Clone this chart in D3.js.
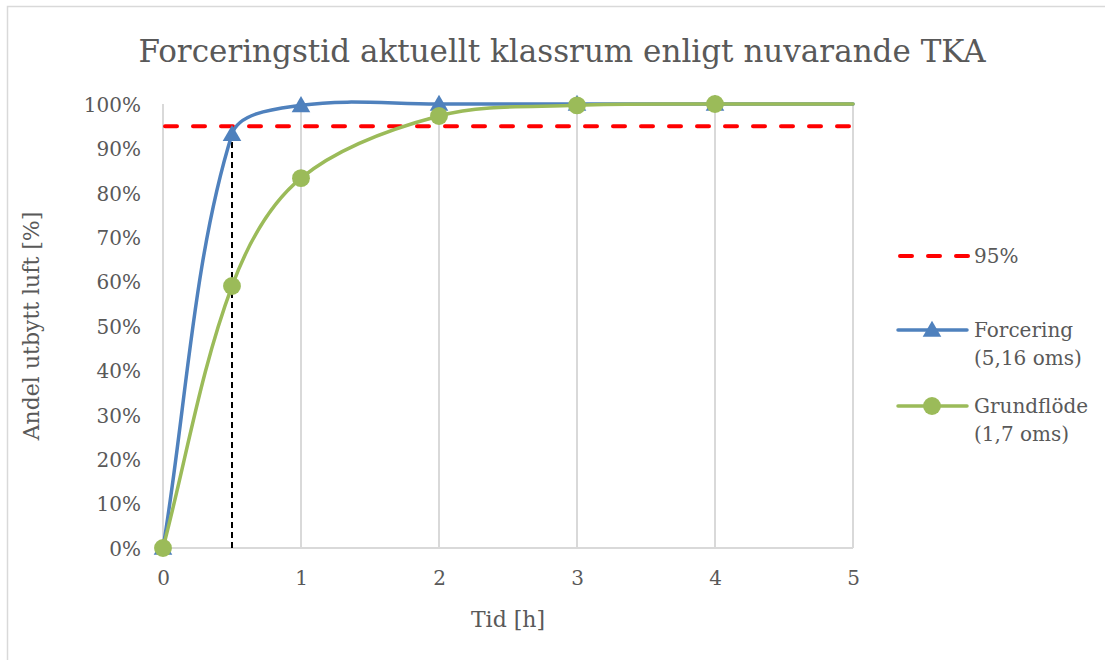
<!DOCTYPE html>
<html>
<head>
<meta charset="utf-8">
<script src="https://cdn.jsdelivr.net/npm/d3@7/dist/d3.min.js"></script>
<style>
  html, body { margin: 0; padding: 0; background: #fff; }
  svg { display: block; }
  text { font-family: "DejaVu Serif", serif; fill: #595959; }
</style>
</head>
<body>
<svg id="chart" width="1105" height="660"></svg>
<script>
// Time in hours
const hours = [0, 0.5, 1, 2, 3, 4, 5];
// Share of exchanged air (%), smoothed series
const forcering = [0, 93.2, 99.7, 100, 100, 100, 100];
const grundflode = [0, 59.0, 83.3, 97.3, 99.7, 100, 100];
// Markers are shown for the measured points only (the last point only extends the curve)
const markerShown = [true, true, true, true, true, true, false];
const threshold = 95;
const markTime = 0.5;

const xTicks = [0, 1, 2, 3, 4, 5];
const yTicks = [0, 10, 20, 30, 40, 50, 60, 70, 80, 90, 100];

const titleText = "Forceringstid aktuellt klassrum enligt nuvarande TKA";
const xTitle = "Tid [h]";
const yTitle = "Andel utbytt luft [%]";
const legendLabels = [["95%"], ["Forcering", "(5,16 oms)"], ["Grundflöde", "(1,7 oms)"]];

const blue = "#4F81BD", green = "#9BBB59", red = "#FF0000", grid = "#D9D9D9";

const svg = d3.select("#chart");
const plot = { left: 163, right: 853, top: 104, bottom: 548 };

const x = d3.scaleLinear().domain([0, 5]).range([plot.left, plot.right]);
const y = d3.scaleLinear().domain([0, 100]).range([plot.bottom, plot.top]);

// outer chart frame
svg.append("path")
  .attr("d", "M7.5,660 V6.5 H1105")
  .attr("fill", "none").attr("stroke", grid).attr("stroke-width", 1.5);

// title
svg.append("text")
  .attr("x", 562).attr("y", 62)
  .attr("text-anchor", "middle")
  .style("font-size", "31px")
  .text(titleText);

// vertical gridlines
svg.append("g").selectAll("line").data(xTicks).join("line")
  .attr("x1", d => x(d)).attr("x2", d => x(d))
  .attr("y1", y(100)).attr("y2", y(0))
  .attr("stroke", grid).attr("stroke-width", 2);

// x axis baseline
svg.append("line")
  .attr("x1", x(0)).attr("x2", x(5)).attr("y1", y(0)).attr("y2", y(0))
  .attr("stroke", grid).attr("stroke-width", 2);

// x tick labels
const xAxis = d3.axisBottom(x).tickValues(xTicks).tickSize(0).tickPadding(0).tickFormat(d3.format("d"));
const gx = svg.append("g").attr("transform", `translate(0,${y(0)})`).call(xAxis);
gx.select(".domain").remove();
gx.selectAll("text").attr("dy", null).attr("y", 37).style("font-size", "20px")
  .style("font-family", "DejaVu Serif, serif").attr("fill", "#595959");

// y tick labels
const yAxis = d3.axisLeft(y).tickValues(yTicks).tickSize(0).tickPadding(0).tickFormat(d => d + "%");
const gy = svg.append("g").attr("transform", `translate(${plot.left - 22},0)`).call(yAxis);
gy.select(".domain").remove();
gy.selectAll("text").attr("dy", "0.36em").attr("x", 0).style("font-size", "20px")
  .style("font-family", "DejaVu Serif, serif").attr("fill", "#595959");

// axis titles
svg.append("text")
  .attr("x", x(2.5)).attr("y", 627)
  .attr("text-anchor", "middle").style("font-size", "22px")
  .text(xTitle);
svg.append("text")
  .attr("transform", `translate(39,${(plot.top + plot.bottom) / 2}) rotate(-90)`)
  .attr("text-anchor", "middle").style("font-size", "22px")
  .text(yTitle);

// 95 % threshold
svg.append("line")
  .attr("x1", x(0)).attr("x2", x(5) - 4)
  .attr("y1", y(threshold)).attr("y2", y(threshold))
  .attr("stroke", red).attr("stroke-width", 4)
  .attr("stroke-dasharray", "12 16").attr("stroke-linecap", "round")
  .attr("transform", "translate(2,0)");

// vertical marker at 0.5 h
svg.append("line")
  .attr("x1", x(markTime)).attr("x2", x(markTime))
  .attr("y1", y(0)).attr("y2", y(forcering[hours.indexOf(markTime)]) + 6)
  .attr("stroke", "#000").attr("stroke-width", 2)
  .attr("stroke-dasharray", "6 4");

// Smoothed line: cubic Bezier through every point, with tangent arms
// weighted by the lengths of the neighbouring segments (limits overshoot).
function smoothPath(values) {
  const pts = values.map((v, i) => [x(hours[i]), y(v)]);
  const n = pts.length;
  const dist = (a, b) => Math.hypot(b[0] - a[0], b[1] - a[1]);
  const tangent = i => {
    const p = pts[Math.max(0, i - 1)], q = pts[Math.min(n - 1, i + 1)];
    return [q[0] - p[0], q[1] - p[1]];
  };
  const path = d3.path();
  path.moveTo(pts[0][0], pts[0][1]);
  for (let i = 0; i < n - 1; i++) {
    const a = pts[i], b = pts[i + 1];
    const dab = dist(a, b);
    const ta = tangent(i), tb = tangent(i + 1);
    const ka = i === 0 ? 1 / 3 : dab / (3 * (dist(pts[i - 1], a) + dab));
    const kb = i + 1 === n - 1 ? 1 / 3 : dab / (3 * (dab + dist(b, pts[i + 2])));
    path.bezierCurveTo(
      a[0] + ta[0] * ka, a[1] + ta[1] * ka,
      b[0] - tb[0] * kb, b[1] - tb[1] * kb,
      b[0], b[1]);
  }
  return path.toString();
}

const tri = d3.symbol().type(d3.symbolTriangle).size(150);
const circ = d3.symbol().type(d3.symbolCircle).size(250);

function drawSeries(values, color, sym) {
  svg.append("path")
    .attr("d", smoothPath(values)).attr("fill", "none")
    .attr("stroke", color).attr("stroke-width", 3.5)
    .attr("stroke-linejoin", "round").attr("stroke-linecap", "round");
  svg.append("g").selectAll("path")
    .data(values.map((v, i) => ({ v, i })).filter(d => markerShown[d.i]))
    .join("path")
    .attr("transform", d => `translate(${x(hours[d.i])},${y(d.v) + (sym === tri ? 1.5 : 0)})`)
    .attr("d", sym).attr("fill", color);
}
drawSeries(forcering, blue, tri);
drawSeries(grundflode, green, circ);

// legend
const lg = svg.append("g");
const lx0 = 898, lx1 = 967, tx = 974;
lg.append("line").attr("x1", lx0).attr("x2", lx1).attr("y1", 256).attr("y2", 256)
  .attr("stroke", red).attr("stroke-width", 4).attr("stroke-dasharray", "12 16")
  .attr("stroke-linecap", "round").attr("transform", "translate(2,0)");
lg.append("line").attr("x1", lx0).attr("x2", lx1).attr("y1", 330).attr("y2", 330)
  .attr("stroke", blue).attr("stroke-width", 3.5).attr("stroke-linecap", "round");
lg.append("path").attr("d", tri).attr("fill", blue).attr("transform", "translate(932,331.5)");
lg.append("line").attr("x1", lx0).attr("x2", lx1).attr("y1", 406).attr("y2", 406)
  .attr("stroke", green).attr("stroke-width", 3.5).attr("stroke-linecap", "round");
lg.append("path").attr("d", circ).attr("fill", green).attr("transform", "translate(932,406)");

const legendY = [256, 330, 406];
legendLabels.forEach((lines, k) => {
  const t = lg.append("text").attr("x", tx).attr("y", legendY[k] + 7).style("font-size", "20px");
  lines.forEach((s, j) => {
    t.append("tspan").attr("x", tx).attr("dy", j === 0 ? 0 : 28).text(s);
  });
});
</script>
</body>
</html>
